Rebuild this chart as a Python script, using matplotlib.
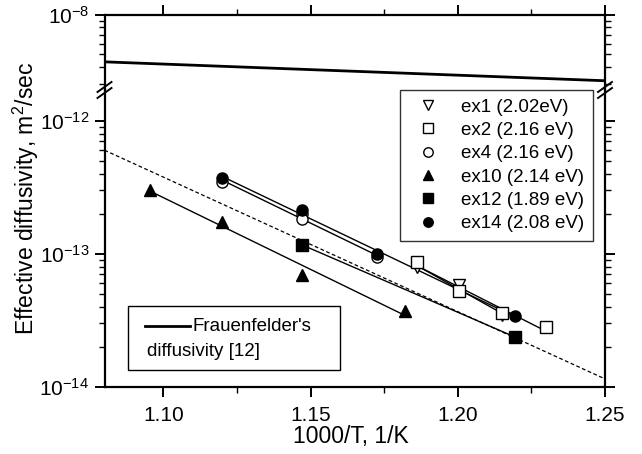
import matplotlib
matplotlib.use("Agg")
import matplotlib.pyplot as plt
import numpy as np
from matplotlib.lines import Line2D
from matplotlib.patches import Rectangle
from matplotlib.ticker import NullFormatter, FixedLocator, FixedFormatter

plt.rcParams['font.family'] = ['Liberation Sans', 'DejaVu Sans']
plt.rcParams['mathtext.fontset'] = 'custom'
plt.rcParams['mathtext.rm'] = 'Liberation Sans'
plt.rcParams['mathtext.it'] = 'Liberation Sans'
plt.rcParams['mathtext.bf'] = 'Liberation Sans'

# ---- data (x = 1000/T in 1/K, y = diffusivity in m^2/s) ----
ex1_x = [1.186, 1.2005, 1.215]
ex1_y = [7.9e-14, 5.8e-14, 3.45e-14]
ex2_x = [1.186, 1.2005, 1.215, 1.230]
ex2_y = [8.7e-14, 5.3e-14, 3.6e-14, 2.8e-14]
ex4_x = [1.12, 1.147, 1.147, 1.1725]
ex4_y = [3.45e-13, 1.98e-13, 1.82e-13, 9.4e-14]
ex10_x = [1.0955, 1.12, 1.147, 1.182]
ex10_y = [3.0e-13, 1.74e-13, 6.9e-14, 3.75e-14]
ex12_x = [1.147, 1.2195]
ex12_y = [1.17e-13, 2.37e-14]
ex14_x = [1.12, 1.147, 1.1725, 1.2195]
ex14_y = [3.7e-13, 2.13e-13, 1.0e-13, 3.4e-14]

labels = ['ex1 (2.02eV)', 'ex2 (2.16 eV)', 'ex4 (2.16 eV)',
          'ex10 (2.14 eV)', 'ex12 (1.89 eV)', 'ex14 (2.08 eV)']

# overall dashed Arrhenius line and Frauenfelder's diffusivity
fit_x = [1.08, 1.25]
fit_y = [6.0e-13, 1.15e-14]
frauen_x = [1.08, 1.25]
frauen_y = [4.4e-9, 3.17e-9]

x_major = [1.10, 1.15, 1.20, 1.25]
x_minor = [1.125, 1.175, 1.225]
x_labels = ['1.10', '1.15', '1.20', '1.25']
y_major = [1e-14, 1e-13, 1e-12]
y_labels = [r'$\mathregular{10^{-14}}$', r'$\mathregular{10^{-13}}$',
            r'$\mathregular{10^{-12}}$']

# ---- figure layout: broken log axis ----
W, H = 642, 454
fig = plt.figure(figsize=(W / 100, H / 100), dpi=100)
L, R = 104.5 / W, 605 / W
y_break, y_top, y_bot = 90, 14.5, 387
ax_top = fig.add_axes([L, 1 - y_break / H, R - L, (y_break - y_top) / H])
ax = fig.add_axes([L, 1 - y_bot / H, R - L, (y_bot - y_break) / H])

series = [
    (ex1_x, ex1_y, 'v', 'white', 9),
    (ex2_x, ex2_y, 's', 'white', 8),
    (ex4_x, ex4_y, 'o', 'white', 8),
    (ex10_x, ex10_y, '^', 'black', 9),
    (ex12_x, ex12_y, 's', 'black', 8),
    (ex14_x, ex14_y, 'o', 'black', 8),
]

ax.plot(fit_x, fit_y, color='black', lw=0.9, ls=(0, (3, 2)), zorder=1)

for (xs, ys, mk, fc, ms), lab in zip(series, labels):
    xs = np.array(xs)
    p = np.polyfit(xs, np.log10(ys), 1)
    xf = np.array([xs.min(), xs.max()])
    ax.plot(xf, 10 ** np.polyval(p, xf), color='black', lw=1.0, zorder=2)
    ax.plot(xs, ys, ls='none', marker=mk, ms=ms, mfc=fc, mec='black',
            mew=1.0, label=lab, zorder=3)

ax_top.plot(frauen_x, frauen_y, color='black', lw=2.0)

for a in (ax, ax_top):
    a.set_yscale('log')
    a.set_xlim(1.08, 1.25)
    for s in a.spines.values():
        s.set_linewidth(1.6)
    a.tick_params(which='major', direction='out', length=7, width=1.4,
                  labelsize=15, right=True, pad=4)
    a.tick_params(which='minor', direction='out', length=4, width=1.0,
                  right=True)
    a.set_xticks(x_major)
    a.set_xticks(x_minor, minor=True)
    a.yaxis.set_minor_formatter(NullFormatter())

ax.set_ylim(1e-14, 1.7e-12)
ax.spines['top'].set_visible(False)
ax.tick_params(axis='x', which='both', top=False, pad=7)
ax.set_xticklabels(x_labels)
ax.yaxis.set_major_locator(FixedLocator(y_major))
ax.yaxis.set_major_formatter(FixedFormatter(y_labels))

ax_top.set_ylim(2.7e-9, 1e-8)
ax_top.spines['bottom'].set_visible(False)
ax_top.tick_params(axis='x', which='both', bottom=False, top=True,
                   labelbottom=False)
ax_top.yaxis.set_major_locator(FixedLocator([1e-8]))
ax_top.yaxis.set_major_formatter(FixedFormatter([r'$\mathregular{10^{-8}}$']))

# break marks on the left and right spines
for xb in (L, R):
    for off in (-3, 3):
        yb = 1 - (y_break + off) / H
        fig.add_artist(Line2D([xb - 7 / W, xb + 7 / W],
                              [yb - 5 / H, yb + 5 / H],
                              transform=fig.transFigure, color='black', lw=1.4))

# legend of the samples
leg = ax.legend(loc='upper right', bbox_to_anchor=(0.976, 1.0),
                borderaxespad=0, fontsize=13.5, frameon=True, fancybox=False,
                edgecolor='black', labelspacing=0.33, handletextpad=0.8,
                borderpad=0.45, markerscale=0.85)
leg.get_frame().set_linewidth(1.0)

# Frauenfelder legend box
ax.add_patch(Rectangle((0.046, 0.057), 0.424, 0.216, transform=ax.transAxes,
                       fill=False, edgecolor='black', lw=1.0, zorder=5))
ax.add_artist(Line2D([0.081, 0.171], [0.205, 0.205], transform=ax.transAxes,
                     color='black', lw=2.0))
ax.text(0.176, 0.205, "Frauenfelder's", transform=ax.transAxes,
        fontsize=13.5, va='center', ha='left')
ax.text(0.085, 0.121, "diffusivity [12]", transform=ax.transAxes,
        fontsize=13.5, va='center', ha='left')

fig.text(26 / W, 1 - 198 / H, 'Effective diffusivity, m$^2$/sec',
         rotation=90, ha='center', va='center', fontsize=16.5)
fig.text(351 / W, 1 - 437 / H, '1000/T, 1/K', ha='center', va='center',
         fontsize=16.5)

fig.savefig('out.png', dpi=100)
